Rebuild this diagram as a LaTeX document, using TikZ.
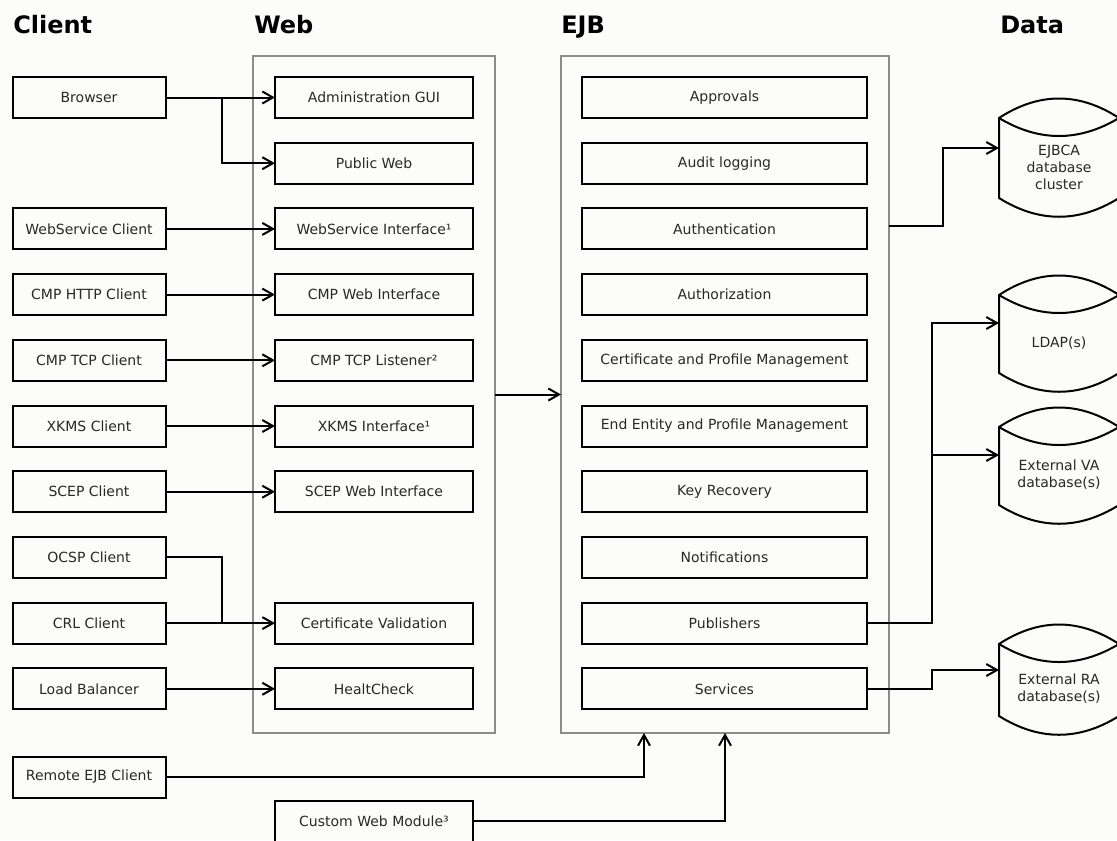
\documentclass[tikz,border=0pt]{standalone}
\usepackage{fontspec}
\setmainfont{DejaVu Sans}
\usetikzlibrary{arrows.meta}
\newcommand{\pxu}{0.75pt}
\definecolor{bg}{RGB}{252,252,250}
\definecolor{frame}{RGB}{140,140,140}
\definecolor{ink}{RGB}{40,40,40}
\begin{document}
\begin{tikzpicture}[x=0.75pt,y=-0.75pt,
  box/.style={draw=black, line width=1.5pt, inner sep=0pt, outer sep=0pt,
    minimum height=41*\pxu, text=ink, font=\fontsize{10.5}{12.6}\selectfont},
  clientbox/.style={box, minimum width=153*\pxu},
  webbox/.style={box, minimum width=198*\pxu},
  ejbbox/.style={box, minimum width=285*\pxu},
  container/.style={draw=frame, line width=1.2pt, inner sep=0pt, outer sep=0pt,
    minimum height=677*\pxu},
  heading/.style={anchor=base west, inner sep=0pt, font=\fontsize{18}{21}\selectfont\bfseries},
  conn/.style={line width=1.5pt, -{Straight Barb[length=8pt,width=9pt]}},
  wire/.style={line width=1.5pt},
  dbbody/.style={inner sep=0pt, outer sep=0pt, minimum width=120*\pxu, align=center,
    text=ink, font=\fontsize{10.5}{12.75}\selectfont},
  dbline/.style={line width=1.5pt}
]
% page
\fill[bg] (0,0) rectangle (1117,840);
\useasboundingbox (0,0) rectangle (1117,840);

% column headings
\node[heading] (hclient) at (13,33) {Client};
\node[heading] (hweb) at (254,33) {Web};
\node[heading] (hejb) at (561,33) {EJB};
\node[heading] (hdata) at (1000,33) {Data};

% containers
\node[container, minimum width=242*\pxu] (web) at (374,394.5) {};
\node[container, minimum width=328*\pxu] (ejb) at (725,394.5) {};

% client side
\node[clientbox] (browser) at (89,97.5) {Browser};
\node[clientbox] (wsclient) at (89,228.9) {WebService Client};
\node[clientbox] (cmphttp) at (89,294.6) {CMP HTTP Client};
\node[clientbox] (cmptcp) at (89,360.3) {CMP TCP Client};
\node[clientbox] (xkmsclient) at (89,426) {XKMS Client};
\node[clientbox] (scepclient) at (89,491.7) {SCEP Client};
\node[clientbox] (ocsp) at (89,557.4) {OCSP Client};
\node[clientbox] (crl) at (89,623.1) {CRL Client};
\node[clientbox] (lb) at (89,688.8) {Load Balancer};
\node[clientbox] (remote) at (89,777) {Remote EJB Client};

% web modules
\node[webbox] (admin) at (374,97.5) {Administration GUI};
\node[webbox] (public) at (374,163.2) {Public Web};
\node[webbox] (wsif) at (374,228.9) {WebService Interface¹};
\node[webbox] (cmpweb) at (374,294.6) {CMP Web Interface};
\node[webbox] (cmplistener) at (374,360.3) {CMP TCP Listener²};
\node[webbox] (xkmsif) at (374,426) {XKMS Interface¹};
\node[webbox] (scepweb) at (374,491.7) {SCEP Web Interface};
\node[webbox] (certval) at (374,623.1) {Certificate Validation};
\node[webbox] (health) at (374,688.8) {HealtCheck};
\node[webbox] (custom) at (374,821) {Custom Web Module³};

% EJB components
\node[ejbbox] (approvals) at (724.5,97.5) {Approvals};
\node[ejbbox] (audit) at (724.5,163.2) {Audit logging};
\node[ejbbox] (authn) at (724.5,228.9) {Authentication};
\node[ejbbox] (authz) at (724.5,294.6) {Authorization};
\node[ejbbox] (certprof) at (724.5,360.3) {Certificate and Profile Management};
\node[ejbbox] (endentity) at (724.5,426) {End Entity and Profile Management};
\node[ejbbox] (keyrec) at (724.5,491.7) {Key Recovery};
\node[ejbbox] (notif) at (724.5,557.4) {Notifications};
\node[ejbbox] (pub) at (724.5,623.1) {Publishers};
\node[ejbbox] (services) at (724.5,688.8) {Services};

% data stores (node = body below the top ellipse)
\node[dbbody, minimum height=62*\pxu] (ejbca) at (1059,167) {EJBCA\\database\\cluster};
\node[dbbody, minimum height=60*\pxu] (ldap) at (1059,343) {LDAP(s)};
\node[dbbody, minimum height=60*\pxu] (va) at (1059,475) {External VA\\database(s)};
\node[dbbody, minimum height=54*\pxu] (ra) at (1059,689) {External RA\\database(s)};
\foreach \n in {ejbca,ldap,va,ra}{
  \draw[dbline] (\n.south east) .. controls +(-40,25) and +(40,25) .. (\n.south west)
    -- ([yshift=13.5pt]\n.north west)
    .. controls +(40,-26) and +(-40,-26) .. ([yshift=13.5pt]\n.north east);
  \draw[dbline] ([yshift=13.5pt]\n.north west)
    .. controls +(40,24) and +(-40,24) .. ([yshift=13.5pt]\n.north east);
}

% client -> web
\draw[conn] (browser.east) -- (admin.west);
\draw[conn] ([xshift=42pt]browser.east) |- (public.west);
\draw[conn] (wsclient.east) -- (wsif.west);
\draw[conn] (cmphttp.east) -- (cmpweb.west);
\draw[conn] (cmptcp.east) -- (cmplistener.west);
\draw[conn] (xkmsclient.east) -- (xkmsif.west);
\draw[conn] (scepclient.east) -- (scepweb.west);
\draw[wire] (ocsp.east) -| ([xshift=42pt]crl.east);
\draw[conn] (crl.east) -- (certval.west);
\draw[conn] (lb.east) -- (health.west);

% into the EJB layer
\draw[conn] (web.east) -- (ejb.west);
\draw[conn] (remote.east) -| ([xshift=62.25pt]ejb.south west);
\draw[conn] (custom.east) -| (ejb.south);

% EJB -> data
\draw[conn] ([yshift=-127.5pt]ejb.north east) -- ++(54,0) |- ([yshift=-9pt]ejbca.north west);
\draw[conn] (pub.east) -- ++(65,0) |- ([yshift=-7.5pt]ldap.north west);
\draw[conn] ([xshift=48.75pt]pub.east) |- ([yshift=-7.5pt]va.north west);
\draw[conn] (services.east) -- ++(65,0) |- ([yshift=-6pt]ra.north west);
\end{tikzpicture}
\end{document}
